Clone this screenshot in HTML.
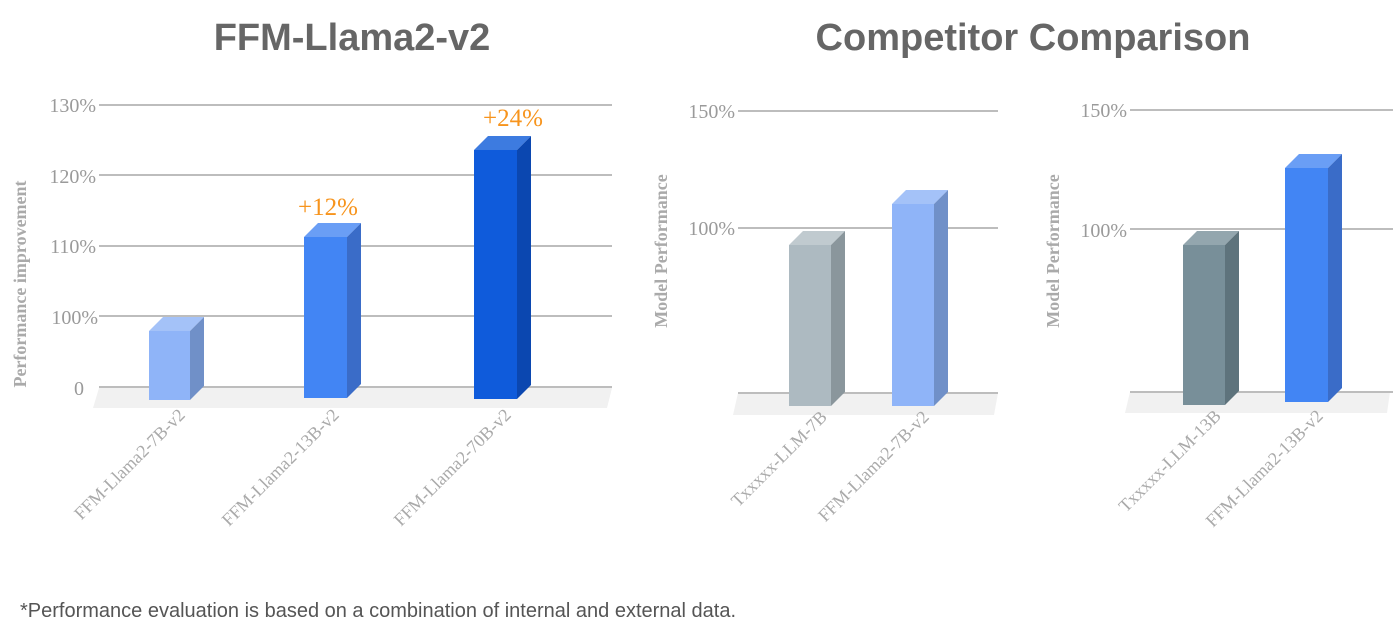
<!DOCTYPE html>
<html><head><meta charset="utf-8"><style>
html,body{margin:0;padding:0;background:#fff;}
svg{display:block;}
.t{font-family:"Liberation Sans",sans-serif;font-weight:bold;fill:#666;font-size:38px;}
.yl{font-family:"Liberation Serif",serif;fill:#9a9a9a;font-size:20px;text-anchor:end;}
.yt{font-family:"Liberation Serif",serif;fill:#aaa;font-size:18px;font-weight:bold;text-anchor:middle;}
.xl{font-family:"Liberation Serif",serif;fill:#aaa;font-size:18px;text-anchor:end;}
.ann{font-family:"Liberation Serif",serif;fill:#f7941d;font-size:25px;text-anchor:middle;}
.g{stroke:#bdbdbd;stroke-width:2;}
</style></head><body>
<svg width="1393" height="638" viewBox="0 0 1393 638">
<text class="t" x="352" y="50" text-anchor="middle">FFM-Llama2-v2</text>
<text class="t" x="1033" y="50" text-anchor="middle">Competitor Comparison</text>

<!-- Left chart -->
<polygon points="99,388 612,388 607,408 93,408" fill="#f1f1f1"/>
<line class="g" x1="99" y1="105" x2="612" y2="105"/>
<line class="g" x1="99" y1="175" x2="612" y2="175"/>
<line class="g" x1="99" y1="246" x2="612" y2="246"/>
<line class="g" x1="99" y1="316" x2="612" y2="316"/>
<line class="g" x1="99" y1="387" x2="612" y2="387"/>
<text class="yl" x="96" y="112">130%</text>
<text class="yl" x="96" y="183">120%</text>
<text class="yl" x="96" y="253">110%</text>
<text class="yl" x="98" y="324">100%</text>
<text class="yl" x="84" y="395">0</text>
<text class="yt" transform="translate(26,284) rotate(-90)">Performance improvement</text>

<polygon points="149,331 163,317 204,317 190,331" fill="#a4c2f8"/>
<polygon points="190,331 204,317 204,386 190,400" fill="#7090c8"/>
<rect x="149" y="331" width="41" height="69" fill="#8fb4f8"/>

<polygon points="304,237 318,223 361,223 347,237" fill="#6a9ef5"/>
<polygon points="347,237 361,223 361,384 347,398" fill="#3a6cc8"/>
<rect x="304" y="237" width="43" height="161" fill="#4285f4"/>

<polygon points="474,150 488,136 531,136 517,150" fill="#3d7be0"/>
<polygon points="517,150 531,136 531,385 517,399" fill="#0b47b0"/>
<rect x="474" y="150" width="43" height="249" fill="#0f5bdb"/>

<text class="ann" x="328" y="215">+12%</text>
<text class="ann" x="513" y="126">+24%</text>

<text class="xl" transform="translate(186,416) rotate(-45)">FFM-Llama2-7B-v2</text>
<text class="xl" transform="translate(340,416) rotate(-45)">FFM-Llama2-13B-v2</text>
<text class="xl" transform="translate(512,416) rotate(-45)">FFM-Llama2-70B-v2</text>

<!-- Middle chart -->
<polygon points="738,393 998,393 994,415 733,415" fill="#f1f1f1"/>
<line class="g" x1="738" y1="111" x2="998" y2="111"/>
<line class="g" x1="738" y1="228" x2="998" y2="228"/>
<line class="g" x1="738" y1="393" x2="998" y2="393"/>
<text class="yl" x="735" y="118">150%</text>
<text class="yl" x="735" y="235">100%</text>
<text class="yt" transform="translate(667,251) rotate(-90)">Model Performance</text>

<polygon points="789,245 803,231 845,231 831,245" fill="#c0cacf"/>
<polygon points="831,245 845,231 845,392 831,406" fill="#8a969c"/>
<rect x="789" y="245" width="42" height="161" fill="#adbac1"/>

<polygon points="892,204 906,190 948,190 934,204" fill="#a4c2f8"/>
<polygon points="934,204 948,190 948,392 934,406" fill="#7090c8"/>
<rect x="892" y="204" width="42" height="202" fill="#8fb4f8"/>

<text class="xl" transform="translate(828,418) rotate(-45)">Txxxxx-LLM-7B</text>
<text class="xl" transform="translate(930,418) rotate(-45)">FFM-Llama2-7B-v2</text>

<!-- Right chart -->
<polygon points="1130,392 1390,392 1387,413 1125,413" fill="#f1f1f1"/>
<line class="g" x1="1130" y1="110" x2="1393" y2="110"/>
<line class="g" x1="1130" y1="229" x2="1393" y2="229"/>
<line class="g" x1="1130" y1="392" x2="1393" y2="392"/>
<text class="yl" x="1127" y="117">150%</text>
<text class="yl" x="1127" y="237">100%</text>
<text class="yt" transform="translate(1059,251) rotate(-90)">Model Performance</text>

<polygon points="1183,245 1197,231 1239,231 1225,245" fill="#93a6ae"/>
<polygon points="1225,245 1239,231 1239,391 1225,405" fill="#5e737c"/>
<rect x="1183" y="245" width="42" height="160" fill="#788f99"/>

<polygon points="1285,168 1299,154 1342,154 1328,168" fill="#6a9ef5"/>
<polygon points="1328,168 1342,154 1342,388 1328,402" fill="#3a6cc8"/>
<rect x="1285" y="168" width="43" height="234" fill="#4285f4"/>

<text class="xl" transform="translate(1222,417) rotate(-45)">Txxxxx-LLM-13B</text>
<text class="xl" transform="translate(1324,417) rotate(-45)">FFM-Llama2-13B-v2</text>

<text x="20" y="617" font-family="Liberation Sans, sans-serif" font-size="20" fill="#555">*Performance evaluation is based on a combination of internal and external data.</text>
</svg>
</body></html>
